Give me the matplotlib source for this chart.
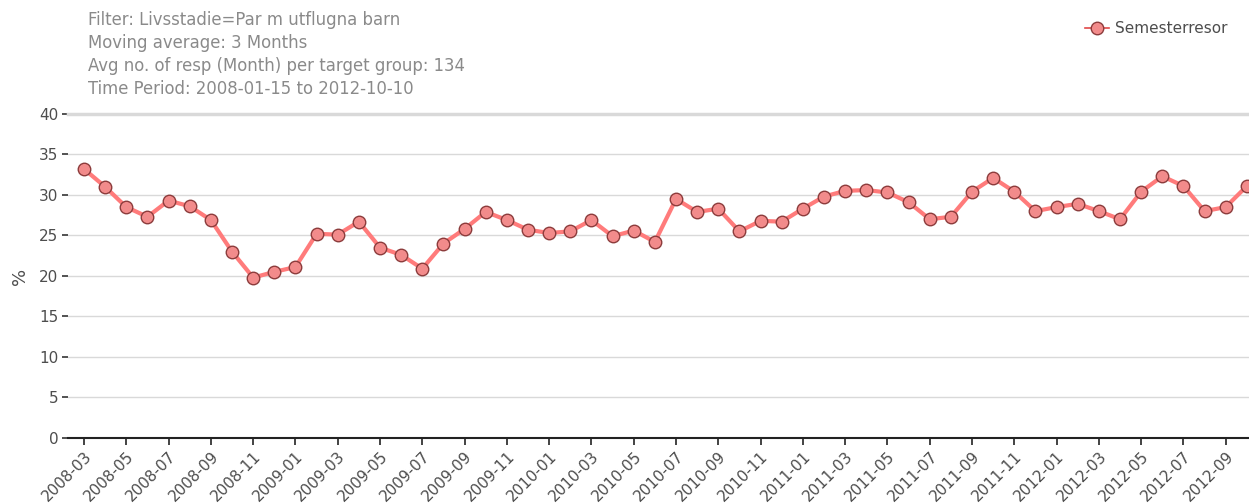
import numpy as np
import matplotlib
matplotlib.use("Agg")
import matplotlib.pyplot as plt

plt.rcParams['font.family'] = ['DejaVu Sans']

# monthly moving average, 2008-03 .. 2012-10
months = ["2008-03", "2008-04", "2008-05", "2008-06", "2008-07", "2008-08", "2008-09", "2008-10",
          "2008-11", "2008-12", "2009-01", "2009-02", "2009-03", "2009-04", "2009-05", "2009-06",
          "2009-07", "2009-08", "2009-09", "2009-10", "2009-11", "2009-12", "2010-01", "2010-02",
          "2010-03", "2010-04", "2010-05", "2010-06", "2010-07", "2010-08", "2010-09", "2010-10",
          "2010-11", "2010-12", "2011-01", "2011-02", "2011-03", "2011-04", "2011-05", "2011-06",
          "2011-07", "2011-08", "2011-09", "2011-10", "2011-11", "2011-12", "2012-01", "2012-02",
          "2012-03", "2012-04", "2012-05", "2012-06", "2012-07", "2012-08", "2012-09", "2012-10"]
semesterresor = [33.2, 31.0, 28.5, 27.3, 29.3, 28.6, 26.9, 23.0,
                 19.8, 20.5, 21.1, 25.2, 25.1, 26.7, 23.5, 22.6,
                 20.9, 24.0, 25.8, 27.9, 26.9, 25.7, 25.3, 25.5,
                 26.9, 24.9, 25.6, 24.2, 29.5, 27.9, 28.3, 25.5,
                 26.8, 26.7, 28.3, 29.8, 30.5, 30.6, 30.3, 29.1,
                 27.0, 27.3, 30.4, 32.1, 30.4, 28.0, 28.5, 28.9,
                 28.0, 27.0, 30.4, 32.3, 31.1, 28.0, 28.5, 31.1]
y_ticks = [0, 5, 10, 15, 20, 25, 30, 35, 40]
header = ["Filter: Livsstadie=Par m utflugna barn",
          "Moving average: 3 Months",
          "Avg no. of resp (Month) per target group: 134",
          "Time Period: 2008-01-15 to 2012-10-10"]

x = np.arange(len(months))

fig = plt.figure(figsize=(12.49, 5.04), dpi=100)
ax = fig.add_axes([0.0544, 0.131, 0.9456, 0.643])

ax.plot(x, semesterresor, color='#ff7b7b', lw=3.0, marker='o', markersize=9,
        markerfacecolor='#f28b8b', markeredgecolor='#8c3c3c', markeredgewidth=1.0,
        label='Semesterresor', zorder=3)

ax.set_xlim(-0.76, 55.1)
ax.set_ylim(0, 40)
ax.set_yticks(y_ticks)
ax.set_xticks(x[::2])
ax.set_xticklabels(months[::2], rotation=45, ha='right', va='top', rotation_mode='anchor')

ax.yaxis.grid(True, color='#d9d9d9', lw=1.0)
ax.set_axisbelow(True)
for s in ['left', 'right']:
    ax.spines[s].set_visible(False)
ax.spines['top'].set_color('#d9d9d9')
ax.spines['top'].set_linewidth(2.5)
ax.spines['bottom'].set_color('#222222')
ax.spines['bottom'].set_linewidth(1.5)

ax.tick_params(axis='both', colors='#4d4d4d', labelsize=11, length=4, width=1.2)
ax.tick_params(axis='x', length=5, color='#222222', pad=3)
ax.tick_params(axis='y', color='#333333', pad=3)

ax.set_ylabel('%', color='#4d4d4d', fontsize=13, labelpad=7)

for i, line in enumerate(header):
    fig.text(88 / 1249, 1 - (20 + 23 * i) / 504, line, color='#8a8a8a', fontsize=11.9,
             va='center', ha='left')

leg = ax.legend(loc='upper right', bbox_to_anchor=(1.0, 1.0), bbox_transform=fig.transFigure,
                frameon=False, fontsize=11, handlelength=1.6, handletextpad=0.4,
                borderaxespad=1.0)
for t in leg.get_texts():
    t.set_color('#4d4d4d')
leg.get_lines()[0].set_linewidth(1.2)
leg.get_lines()[0].set_color('#e04848')

fig.savefig('out.png', dpi=100)
